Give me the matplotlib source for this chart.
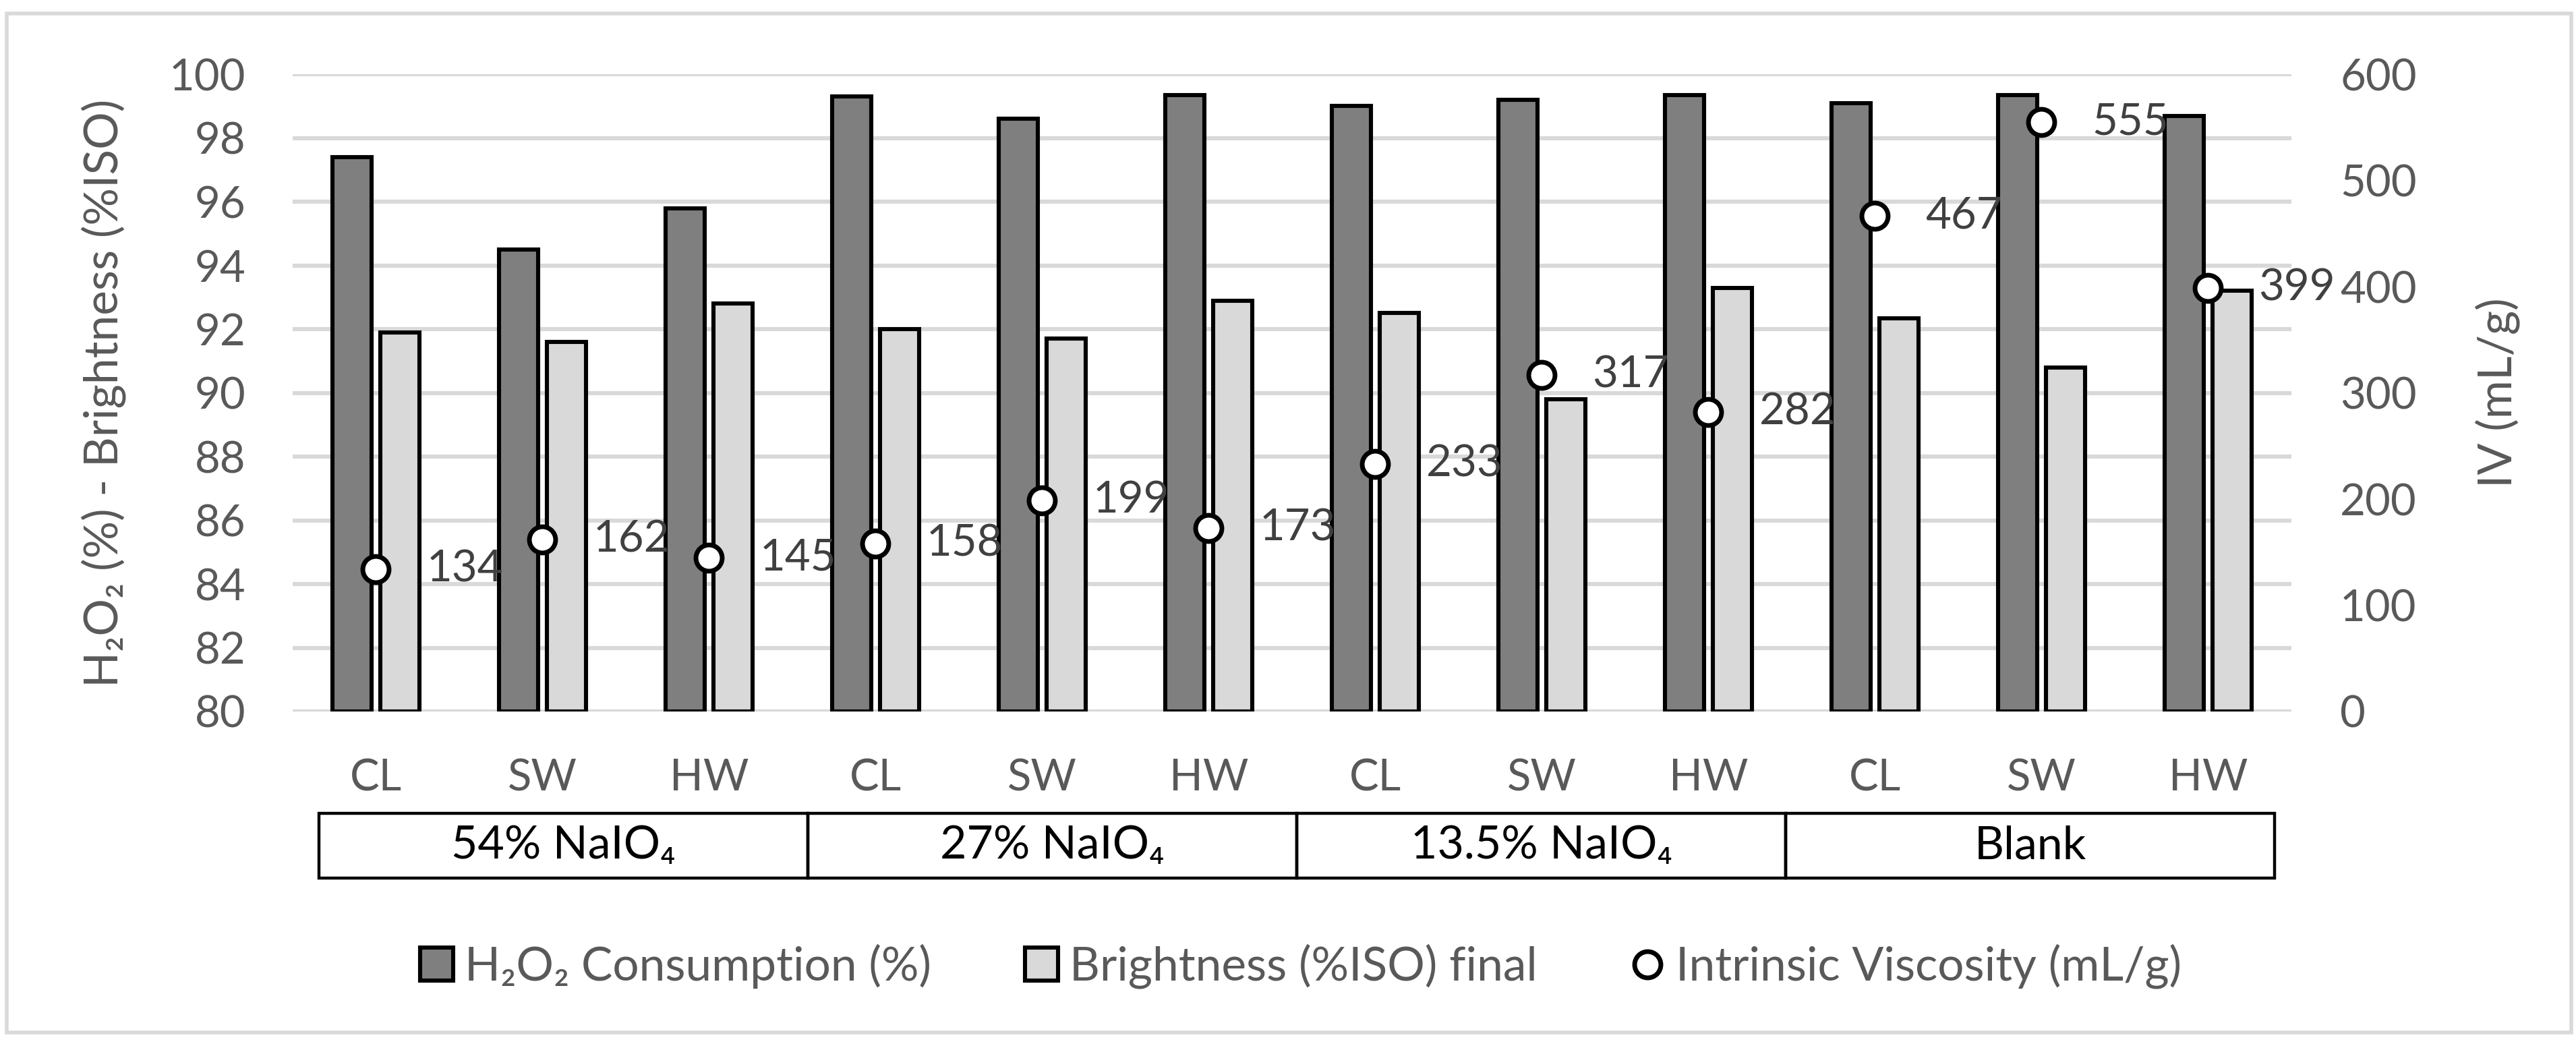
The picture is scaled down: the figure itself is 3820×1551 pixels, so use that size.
import matplotlib
matplotlib.use('Agg')
import matplotlib.pyplot as plt
import matplotlib.transforms as mtransforms
from matplotlib.patches import Rectangle, Patch
from matplotlib.lines import Line2D
import numpy as np

plt.rcParams['font.family'] = ['Lato', 'DejaVu Sans']

# dados
categorias = ['CL', 'SW', 'HW'] * 4
grupos = ['54% NaIO₄', '27% NaIO₄', '13.5% NaIO₄', 'Blank']
h2o2 = [97.4, 94.5, 95.8, 99.3, 98.6, 99.35, 99.0, 99.2, 99.35, 99.1, 99.35, 98.7]
brilho = [91.9, 91.6, 92.8, 92.0, 91.7, 92.9, 92.5, 89.8, 93.3, 92.35, 90.8, 93.2]
iv = [134, 162, 145, 158, 199, 173, 233, 317, 282, 467, 555, 399]

CINZA_TXT = '#595959'
FS_TICK = 23.5
FS_TXT = 25

fig = plt.figure(figsize=(19.1, 7.755), dpi=200)
ax = fig.add_axes([0.1136, 0.3198, 0.7759, 0.6092])
x = np.arange(len(categorias))
larg = 0.235

ax.bar(x - 0.144, [v - 80 for v in h2o2], larg, bottom=80, color='#7F7F7F',
       edgecolor='black', linewidth=2.2, zorder=3)
ax.bar(x + 0.144, [v - 80 for v in brilho], larg, bottom=80, color='#D9D9D9',
       edgecolor='black', linewidth=2.2, zorder=3)

ax.set_xlim(-0.5, len(categorias) - 0.5)
ax.set_ylim(80, 100)
ax.set_yticks(np.arange(80, 101, 2))
ax.yaxis.grid(True, color='#D9D9D9', linewidth=2.2, zorder=0)
ax.set_axisbelow(True)
for s in ax.spines.values():
    s.set_visible(False)
ax.set_xticks(x)
ax.set_xticklabels(categorias)
ax.tick_params(axis='x', length=0, pad=25, labelsize=FS_TICK, labelcolor=CINZA_TXT)
ax.tick_params(axis='y', length=0, pad=25, labelsize=FS_TICK, labelcolor=CINZA_TXT)
ax.set_ylabel('H₂O₂ (%) - Brightness (%ISO)', fontsize=FS_TXT, color=CINZA_TXT)
ax.yaxis.set_label_coords(-0.0833, 0.5)

ax2 = ax.twinx()
ax2.set_ylim(0, 600)
ax2.set_yticks(np.arange(0, 601, 100))
for s in ax2.spines.values():
    s.set_visible(False)
ax2.tick_params(axis='y', length=0, pad=26, labelsize=FS_TICK, labelcolor=CINZA_TXT)
ax2.set_ylabel('IV (mL/g)', fontsize=FS_TXT, color=CINZA_TXT, rotation=90)
ax2.yaxis.set_label_coords(1.092, 0.5)
ax2.plot(x, iv, linestyle='none', marker='o', markersize=14, markerfacecolor='white',
         markeredgecolor='black', markeredgewidth=2.5, zorder=5)
for xi, v in zip(x, iv):
    ax2.annotate(str(v), (xi, v), xytext=(27, 0), textcoords='offset points',
                 ha='left', va='center', fontsize=FS_TICK, color='#404040')

# caixa dos grupos
trans = mtransforms.blended_transform_factory(ax.transData, fig.transFigure)
bordas = np.linspace(-0.34, 11.4, len(grupos) + 1)
y0, y1 = 1 - 1302 / 1551, 1 - 1206 / 1551
for i, g in enumerate(grupos):
    r = Rectangle((bordas[i], y0), bordas[i + 1] - bordas[i], y1 - y0, transform=trans,
                  fill=False, edgecolor='black', linewidth=1.6, clip_on=False)
    ax.add_patch(r)
    ax.text((bordas[i] + bordas[i + 1]) / 2, (y0 + y1) / 2, g, transform=trans,
            ha='center', va='center', fontsize=24.5, color='black')

# legenda
handles = [Patch(facecolor='#7F7F7F', edgecolor='black', linewidth=2.2),
           Patch(facecolor='#D9D9D9', edgecolor='black', linewidth=2.2),
           Line2D([], [], linestyle='none', marker='o', markersize=14, markerfacecolor='white',
                  markeredgecolor='black', markeredgewidth=2.5)]
nomes = ['H₂O₂ Consumption (%)', 'Brightness (%ISO) final', 'Intrinsic Viscosity (mL/g)']
leg = fig.legend(handles, nomes, loc='center', bbox_to_anchor=(0.505, 1 - 1433 / 1551), ncol=3,
                 frameon=False, fontsize=FS_TXT, handlelength=0.7, handleheight=0.7,
                 handletextpad=0.25, columnspacing=2.0)
for t in leg.get_texts():
    t.set_color(CINZA_TXT)

fig.patches.append(Rectangle((0.0026, 0.0129), 0.9955, 0.9742, transform=fig.transFigure,
                             fill=False, edgecolor='#D9D9D9', linewidth=2))

fig.savefig('out.png', dpi=200, facecolor='white')
